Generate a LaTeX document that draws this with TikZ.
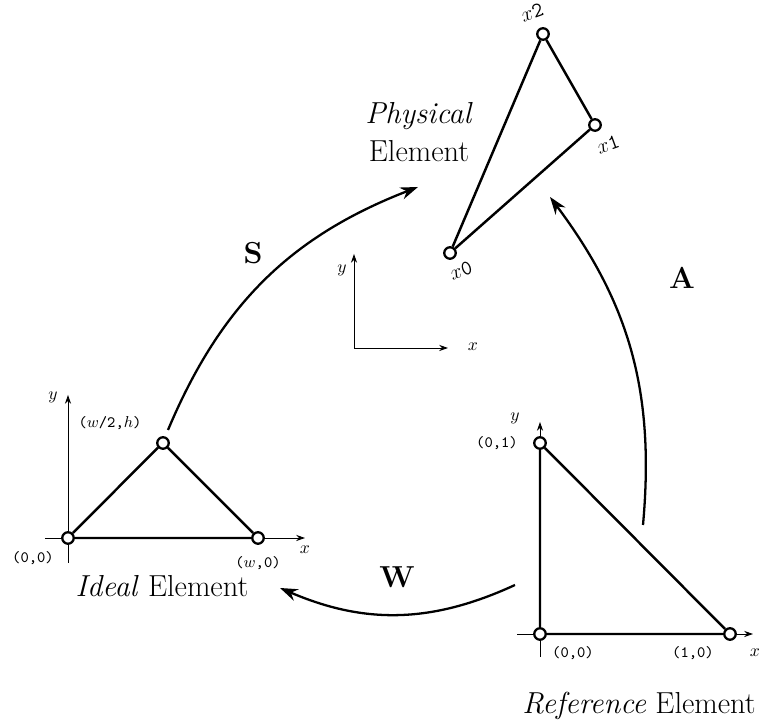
\documentclass[tikz,border=0pt]{standalone}
\usepackage{amsmath}
\usepackage{tikz}
\usetikzlibrary{positioning, arrows.meta}

\begin{document}
\begin{tikzpicture}[
    vtx/.style={circle, draw, fill=white, line width=1.3pt,
      inner sep=0pt, minimum size=0.23cm},
    edge/.style={line width=1.4pt},
    axis/.style={-{Stealth[length=5pt,width=3.5pt]}, line width=0.5pt},
    arr/.style={-{Stealth[length=10pt,width=7pt]}, line width=1.3pt},
    elname/.style={font=\LARGE, align=center},
    coord/.style={font=\small\ttfamily},
    axlbl/.style={font=\normalsize},
    vlbl/.style={font=\large\ttfamily, rotate=20},
    maplbl/.style={font=\LARGE\bfseries},
  ]
    \useasboundingbox (0,0) rectangle (15.2,14.44);

    % physical element
    \node[elname] (phys) at (8.38,11.80) {\textit{Physical}\\Element};
    \coordinate (po) at (7.08,7.48);
    \coordinate (px) at (8.96,7.48);
    \coordinate (py) at (7.08,9.36);
    \draw[axis] (po) -- (px);
    \draw[axis] (po) -- (py);
    \node[axlbl] at (9.46,7.50) {$x$};
    \node[axlbl] at (6.84,9.04) {$y$};
    \node[vtx] (p0) at (9.00,9.38) {};
    \node[vtx] (p1) at (11.90,11.94) {};
    \node[vtx] (p2) at (10.86,13.76) {};
    \draw[edge] (p0) -- (p1) -- (p2) -- (p0);
    \node[vlbl] at (9.22,9.02) {$x$0};
    \node[vlbl] at (12.16,11.56) {$x$1};
    \node[vlbl] at (10.64,14.20) {$x$2};

    % ideal element
    \coordinate (ixl) at (0.90,3.68);
    \coordinate (ixr) at (6.10,3.68);
    \coordinate (iyb) at (1.36,3.18);
    \coordinate (iyt) at (1.36,6.54);
    \draw[axis] (ixl) -- (ixr);
    \draw[axis] (iyb) -- (iyt);
    \node[axlbl] at (6.10,3.44) {$x$};
    \node[axlbl] at (1.06,6.50) {$y$};
    \node[vtx] (i0) at (1.36,3.68) {};
    \node[vtx] (i1) at (5.16,3.68) {};
    \node[vtx] (i2) at (3.26,5.58) {};
    \draw[edge] (i0) -- (i1) -- (i2) -- (i0);
    \node[coord] at (0.66,3.28) {(0,0)};
    \node[coord] at (5.16,3.18) {($w$,0)};
    \node[coord] at (2.20,5.98) {($w$/2,$h$)};
    \node[elname] (ideal) at (3.24,2.72) {\textit{Ideal} Element};

    % reference element
    \coordinate (rxl) at (10.34,1.76);
    \coordinate (rxr) at (15.06,1.76);
    \coordinate (ryb) at (10.80,1.30);
    \coordinate (ryt) at (10.80,6.00);
    \draw[axis] (rxl) -- (rxr);
    \draw[axis] (ryb) -- (ryt);
    \node[axlbl] at (15.10,1.38) {$x$};
    \node[axlbl] at (10.30,6.08) {$y$};
    \node[vtx] (r0) at (10.80,1.76) {};
    \node[vtx] (r1) at (14.60,1.76) {};
    \node[vtx] (r2) at (10.80,5.58) {};
    \draw[edge] (r0) -- (r1) -- (r2) -- (r0);
    \node[coord] at (9.94,5.58) {(0,1)};
    \node[coord] at (11.46,1.38) {(0,0)};
    \node[coord] at (13.86,1.38) {(1,0)};
    \node[elname] (ref) at (12.78,0.32) {\textit{Reference} Element};

    % maps
    \coordinate (s0) at (3.36,5.84);
    \coordinate (s1) at (8.36,10.70);
    \coordinate (a0) at (12.86,3.94);
    \coordinate (a1) at (11.00,10.50);
    \coordinate (w0) at (10.30,2.74);
    \coordinate (w1) at (5.60,2.68);
    \draw[arr] (s0) to[bend left=23] (s1);
    \draw[arr] (a0) to[bend right=21] (a1);
    \draw[arr] (w0) to[bend left=24] (w1);
    \node[maplbl] at (5.06,9.38) {S};
    \node[maplbl] at (13.64,8.88) {A};
    \node[maplbl] at (7.94,2.90) {W};
\end{tikzpicture}
\end{document}
